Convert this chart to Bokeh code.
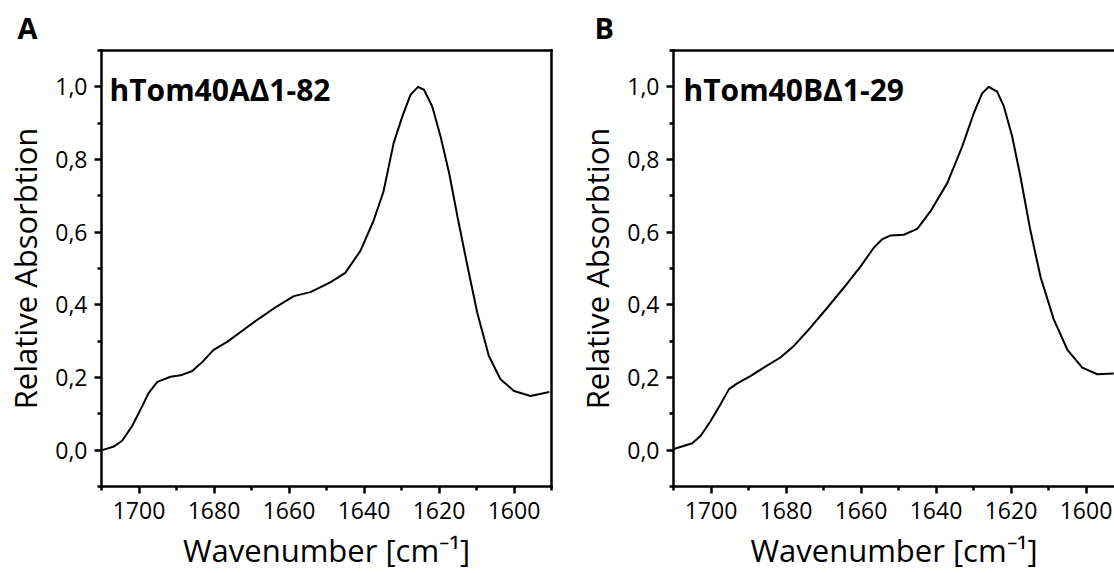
from bokeh.plotting import figure
from bokeh.models import Range1d, FixedTicker, LinearAxis, Label, Title, CustomJSTickFormatter
from bokeh.layouts import row
from bokeh.embed import file_html
from bokeh.resources import INLINE

# ---- data ----
wn_a = [1709.8, 1706.7, 1704.5, 1701.8, 1699.1, 1697.4, 1695.1, 1691.6, 1688.9, 1685.8,
        1683.1, 1680.1, 1676.5, 1672.0, 1667.6, 1663.2, 1658.7, 1654.3, 1649.0, 1645.0,
        1641.0, 1637.5, 1634.8, 1632.1, 1629.8, 1627.6, 1625.6, 1624.0, 1621.8, 1619.6,
        1617.3, 1615.1, 1612.4, 1609.8, 1606.7, 1603.6, 1600.0, 1595.6, 1590.6]
abs_a = [0.000, 0.010, 0.026, 0.067, 0.122, 0.158, 0.188, 0.202, 0.206, 0.218,
         0.243, 0.276, 0.298, 0.332, 0.365, 0.396, 0.424, 0.435, 0.462, 0.488,
         0.548, 0.630, 0.712, 0.845, 0.918, 0.978, 1.000, 0.992, 0.946, 0.864,
         0.763, 0.644, 0.506, 0.378, 0.259, 0.195, 0.163, 0.149, 0.160]

wn_b = [1709.9, 1705.0, 1702.8, 1700.1, 1697.5, 1695.2, 1693.0, 1689.5, 1685.5, 1681.5,
        1677.9, 1673.5, 1669.0, 1664.6, 1660.1, 1656.6, 1654.4, 1652.1, 1648.6, 1645.0,
        1641.5, 1637.0, 1633.0, 1629.9, 1627.7, 1625.9, 1623.7, 1621.9, 1619.7, 1617.5,
        1614.8, 1612.1, 1608.6, 1605.0, 1601.0, 1597.0, 1592.6]
abs_b = [0.003, 0.019, 0.039, 0.080, 0.126, 0.168, 0.184, 0.204, 0.230, 0.255,
         0.287, 0.337, 0.392, 0.447, 0.506, 0.557, 0.580, 0.591, 0.593, 0.609,
         0.657, 0.735, 0.836, 0.928, 0.982, 1.000, 0.987, 0.946, 0.864, 0.754,
         0.603, 0.476, 0.360, 0.277, 0.227, 0.209, 0.211]

x_major = [1700, 1680, 1660, 1640, 1620, 1600]
x_minor = [1710, 1690, 1670, 1650, 1630, 1610, 1590]
y_major = [0.0, 0.2, 0.4, 0.6, 0.8, 1.0]
y_minor = [-0.1, 0.1, 0.3, 0.5, 0.7, 0.9, 1.1]

panel_letters = ["A", "B"]
sample_names = ["hTom40A\u03941-82", "hTom40B\u03941-29"]
x_label = "Wavenumber [cm\u207b\u00b9]"
y_label = "Relative Absorbtion"

FONT = "Open Sans"
LW = 2.5


def make_panel(wn, ab, letter, name, width, border_left, border_right, x_end, right_axis,
               letter_offset, name_offset):
    p = figure(width=width, height=573, output_backend="svg", toolbar_location=None,
               x_range=Range1d(1710, x_end), y_range=Range1d(-0.1, 1.1),
               min_border_left=border_left, min_border_right=border_right,
               min_border_top=50, min_border_bottom=85)
    p.outline_line_color = None
    p.background_fill_color = "white"
    p.border_fill_color = "white"
    p.grid.visible = False

    xa = p.xaxis[0]
    xa.ticker = FixedTicker(ticks=x_major, minor_ticks=x_minor)
    ya = p.yaxis[0]
    ya.ticker = FixedTicker(ticks=y_major, minor_ticks=y_minor)
    ya.formatter = CustomJSTickFormatter(code="return tick.toFixed(1).replace('.', ',');")
    for ax in (xa, ya):
        ax.axis_line_width = LW
        ax.axis_line_color = "black"
        ax.axis_line_cap = "square"
        ax.major_tick_line_width = LW
        ax.minor_tick_line_width = LW
        ax.major_tick_line_color = "black"
        ax.minor_tick_line_color = "black"
        ax.major_tick_in = 0
        ax.major_tick_out = 7
        ax.minor_tick_in = 0
        ax.minor_tick_out = 4
        ax.major_label_text_font = FONT
        ax.major_label_text_font_size = "23px"
        ax.major_label_text_color = "black"
        ax.axis_label_text_font = FONT
        ax.axis_label_text_font_size = "31px"
        ax.axis_label_text_font_style = "normal"
        ax.axis_label_text_color = "black"
    xa.major_label_standoff = 8
    ya.major_label_standoff = 7
    ya.axis_label = y_label
    ya.axis_label_standoff = 6
    xa.axis_label = x_label
    xa.axis_label_standoff = 7

    sides = ["above"] + (["right"] if right_axis else [])
    for side in sides:
        blank = LinearAxis(ticker=FixedTicker(ticks=[]), axis_line_width=LW,
                           axis_line_color="black", axis_line_cap="square",
                           major_tick_line_color=None, minor_tick_line_color=None)
        p.add_layout(blank, side)

    p.line(wn, ab, line_width=2, line_color="black")

    # panel letter as title
    p.title = Title(text=letter, align="left", offset=letter_offset, standoff=7,
                    text_font=FONT, text_font_size="29px", text_font_style="bold",
                    text_color="black")
    # sample name inside the frame
    p.add_layout(Label(x=1710, y=1.1, x_offset=name_offset, y_offset=-39,
                       text=name, text_font=FONT, text_font_size="30px",
                       text_font_style="bold", text_baseline="alphabetic", text_color="black"))
    return p


pA = make_panel(wn_a, abs_a, panel_letters[0], sample_names[0], 570, 101, 19, 1590, True,
                -84, 8)
pB = make_panel(wn_b, abs_b, panel_letters[1], sample_names[1], 544, 103, 0,
                1710 - 441 / 3.75, False, -79, 10)

layout = row(pA, pB)
open("out.html", "w").write(file_html(layout, INLINE))
